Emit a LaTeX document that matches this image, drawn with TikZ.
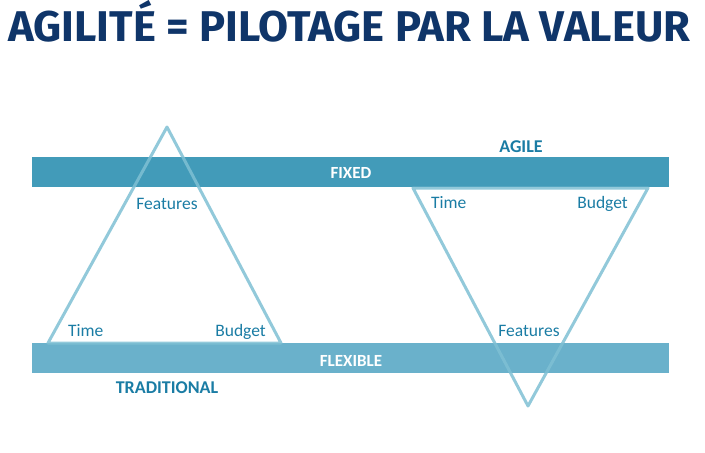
\documentclass[tikz,border=0pt]{standalone}
\usepackage{fontspec}
\setmainfont{Carlito}
\newfontfamily\titlefont{Fira Sans}
\definecolor{titleblue}{HTML}{0F3569}
\definecolor{fixedbar}{HTML}{429BB9}
\definecolor{flexbar}{HTML}{6AB1CB}
\definecolor{edgeblue}{HTML}{7FC0D4}
\definecolor{labelblue}{HTML}{1A7CA4}
\tikzset{
  bartext/.style={text=white, font=\fontsize{17}{17}\selectfont\bfseries, inner sep=0pt},
  corner/.style={text=labelblue, font=\fontsize{17.5}{17.5}\selectfont, inner sep=0pt},
  heading/.style={text=labelblue, font=\fontsize{18}{18}\selectfont\bfseries, inner sep=0pt},
  side/.style={draw=edgeblue, line width=3pt, line join=round, opacity=0.85},
}
\begin{document}
\begin{tikzpicture}[x=1pt, y=-1pt]
\useasboundingbox (0,0) rectangle (705,453);
% title
\node[anchor=base west, inner sep=0pt, text=titleblue] (title) at (8,41)
  {\resizebox{682pt}{\height}{\titlefont\fontsize{43}{43}\selectfont\bfseries AGILITÉ = PILOTAGE PAR LA VALEUR}};
% the two bands
\fill[fixedbar] (32,157) rectangle (669,187);
\fill[flexbar] (32,343) rectangle (669,373);
\node[bartext, anchor=base] (fixed) at (351,178) {FIXED};
\node[bartext, anchor=base] (flex) at (351,366) {FLEXIBLE};
\node[heading, anchor=base] (agile) at (521,152) {AGILE};
\node[heading, anchor=base] (trad) at (167,393) {TRADITIONAL};
% traditional triangle: features fixed, time and budget flexible
\coordinate (ta) at (167,127);
\coordinate (tl) at (48,343);
\coordinate (tr) at (281,343);
\draw[side] (ta) -- (tl) -- (tr) -- cycle;
\node[corner, anchor=base] (tfeat) at (167,209) {Features};
\node[corner, anchor=base west] (ttime) at (68,336) {Time};
\node[corner, anchor=base east] (tbudget) at (266,336) {Budget};
% agile triangle: time and budget fixed, features flexible
\coordinate (al) at (413,188);
\coordinate (ar) at (648,188);
\coordinate (ab) at (528,406);
\draw[side] (al) -- (ar) -- (ab) -- cycle;
\node[corner, anchor=base west] (atime) at (431,208) {Time};
\node[corner, anchor=base east] (abudget) at (628,208) {Budget};
\node[corner, anchor=base] (afeat) at (529,336) {Features};
\end{tikzpicture}
\end{document}
